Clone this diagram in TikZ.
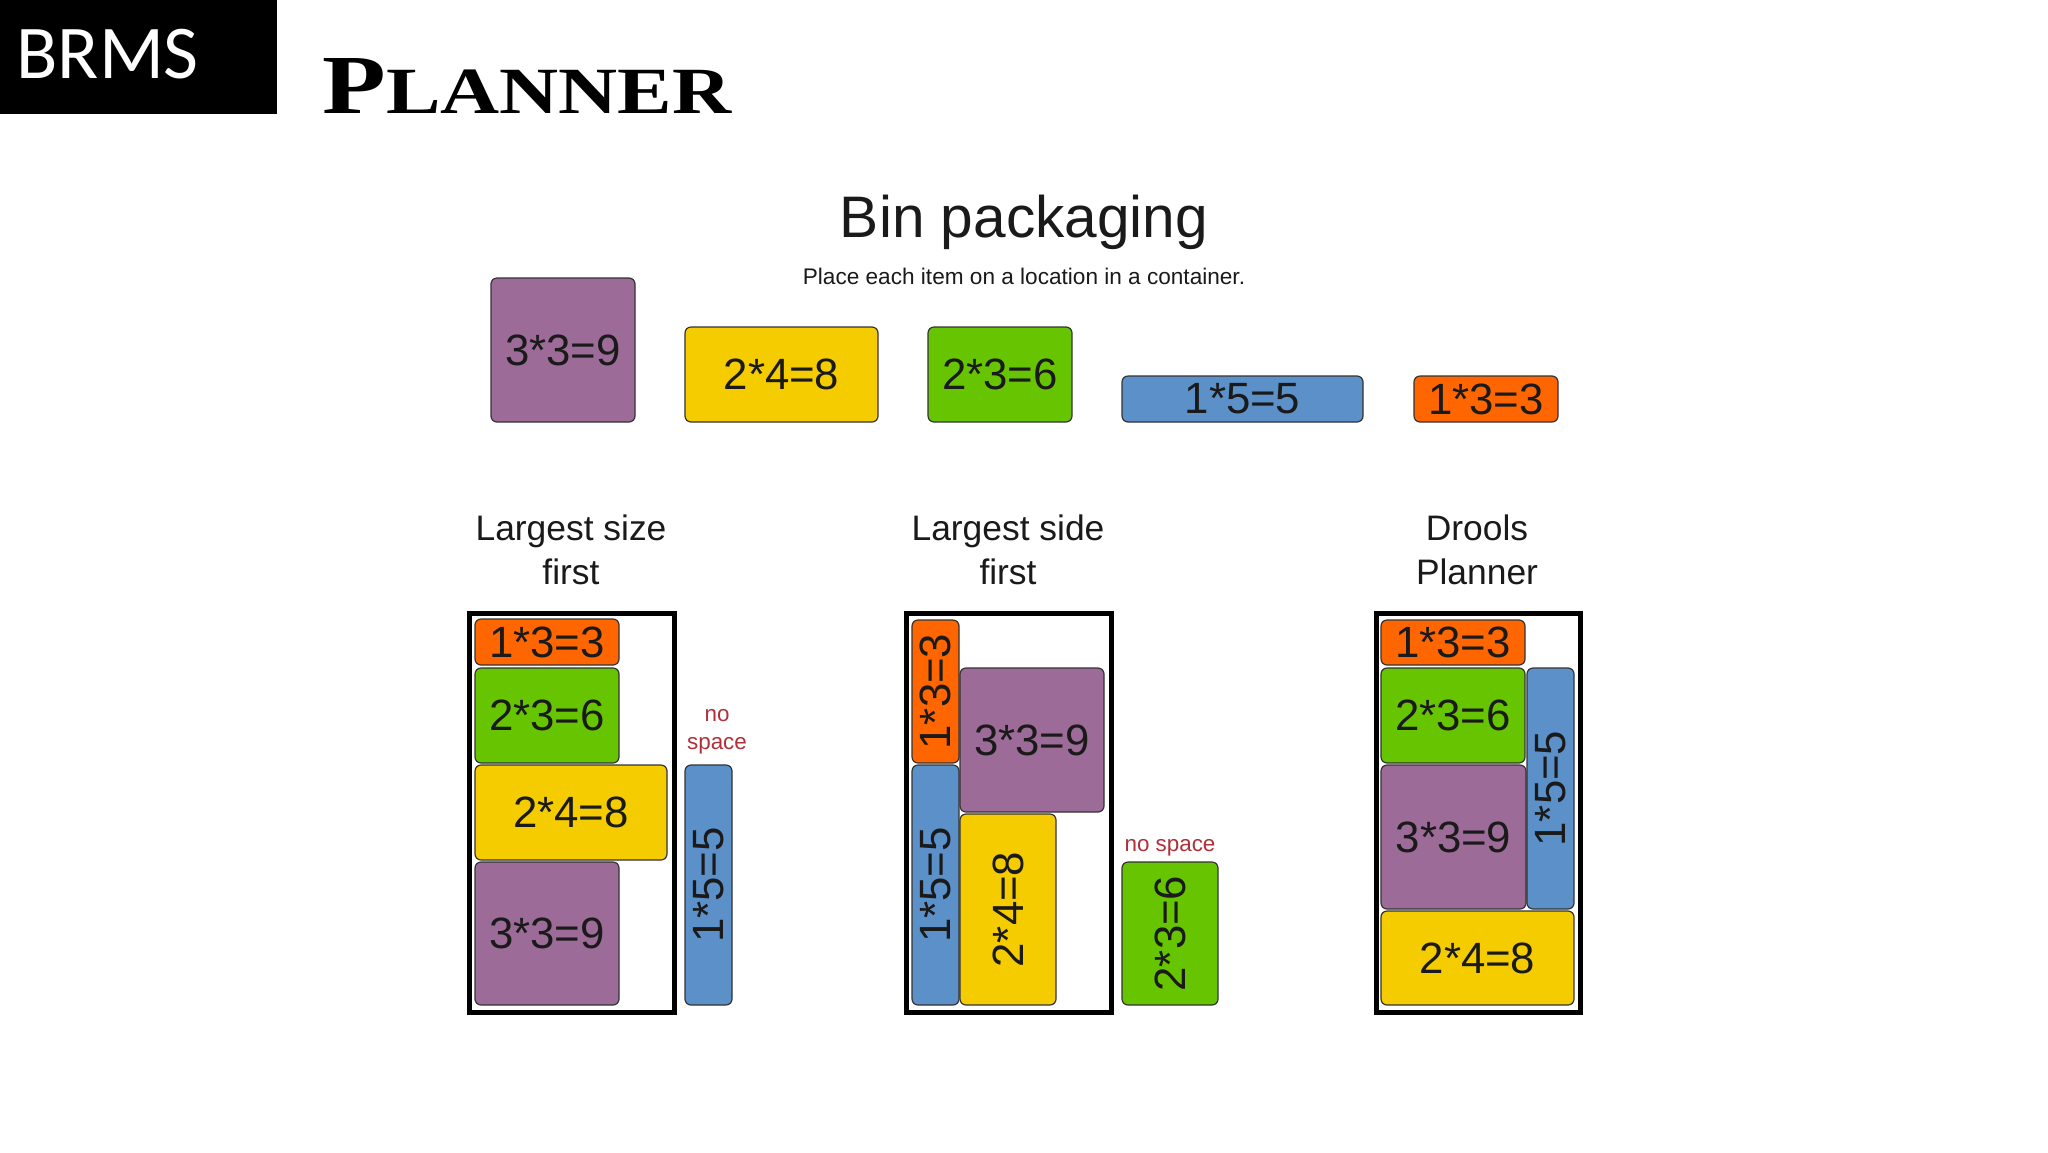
\documentclass[tikz,border=0pt]{standalone}
\usepackage{fontspec}
\setmainfont{Liberation Sans}
\newfontfamily\brmsfont{Carlito}
\newfontfamily\planfont{Liberation Serif}[Ligatures=TeX]
\definecolor{cpurple}{HTML}{9C6B98}
\definecolor{cyellow}{HTML}{F4CC00}
\definecolor{cgreen}{HTML}{66C500}
\definecolor{cblue}{HTML}{5B90C8}
\definecolor{corange}{HTML}{FF6600}
\definecolor{cred}{HTML}{B0303A}
\definecolor{cink}{HTML}{1A1A1A}
\definecolor{cedge}{HTML}{333333}
\tikzset{
  item/.style={draw=cedge,line width=0.6pt,rounded corners=3pt,inner sep=0pt,outer sep=0pt,text=cink,font=\fontsize{21.9}{24}\selectfont},
  binbox/.style={draw=black,line width=2.5pt,fill=white,inner sep=0pt,outer sep=0pt},
  heading/.style={align=center,text=cink,inner sep=0pt,font=\fontsize{17.7}{22.2}\selectfont},
  nospace/.style={align=center,text=cred,inner sep=0pt,font=\fontsize{11.2}{14}\selectfont}
}
\newcommand{\placebox}[7]{% name, x0,y0,x1,y1, style, text
  \pgfmathsetmacro{\cxv}{(#2+#4)/2}
  \pgfmathsetmacro{\cyv}{(#3+#5)/2}
  \pgfmathsetmacro{\wv}{(#4-#2)*0.5}
  \pgfmathsetmacro{\hv}{(#5-#3)*0.5}
  \node[#6,minimum width=\wv pt,minimum height=\hv pt] (#1) at (\cxv,\cyv) {#7};
}
\newcommand{\up}[1]{\rotatebox{90}{#1}}
\begin{document}
\begin{tikzpicture}[x=0.5pt,y=-0.5pt]
\useasboundingbox (0,0) rectangle (2048,1152);
\fill[white] (0,0) rectangle (2048,1152);
% header
\placebox{hdr}{0}{0}{277}{113.5}{fill=black,inner sep=0pt,outer sep=0pt}{}
\node[anchor=base west,inner sep=0pt,text=white,font=\brmsfont\fontsize{38}{40}\selectfont] (brms) at (16,78) {BRMS};
\node[anchor=base west,inner sep=0pt,font=\planfont\bfseries] (plan) at (322,113) {\scalebox{1.24}[1]{\fontsize{42}{44}\selectfont P\fontsize{33}{36}\selectfont LANNER}};
% titles
\node[inner sep=0pt,text=cink,font=\fontsize{29.3}{32}\selectfont] (title) at (1024,222) {Bin packaging};
\node[inner sep=0pt,text=cink,font=\fontsize{11.3}{13}\selectfont] (sub) at (1024,276) {Place each item on a location in a container.};
% top row
\placebox{tp}{491}{278}{635}{422}{item,fill=cpurple}{3*3=9}
\placebox{ty}{685}{327}{878}{422}{item,fill=cyellow}{2*4=8}
\placebox{tg}{928}{327}{1072}{422}{item,fill=cgreen}{2*3=6}
\placebox{tb}{1122}{376}{1363}{422}{item,fill=cblue}{1*5=5}
\placebox{to}{1414}{376}{1558}{422}{item,fill=corange}{1*3=3}
% headings
\node[heading] (h1) at (571,550) {Largest size\\first};
\node[heading] (h2) at (1008,550) {Largest side\\first};
\node[heading] (h3) at (1477,550) {Drools\\Planner};
% bin 1
\placebox{b1}{469}{613}{674}{1012}{binbox}{}
\placebox{ao}{475}{619}{619}{665}{item,fill=corange}{1*3=3}
\placebox{ag}{475}{668}{619}{763}{item,fill=cgreen}{2*3=6}
\placebox{ay}{475}{765}{667}{860}{item,fill=cyellow}{2*4=8}
\placebox{ap}{475}{862}{619}{1005}{item,fill=cpurple}{3*3=9}
\placebox{ab}{685}{765}{732}{1005}{item,fill=cblue}{\up{1*5=5}}
\node[nospace] (n1) at (717,732) {no\\space};
% bin 2
\placebox{b2}{906}{613}{1111}{1012}{binbox}{}
\placebox{co}{912}{620}{959}{763}{item,fill=corange}{\up{1*3=3}}
\placebox{cb}{912}{765}{959}{1005}{item,fill=cblue}{\up{1*5=5}}
\placebox{cp}{960}{668}{1104}{812}{item,fill=cpurple}{3*3=9}
\placebox{cy}{960}{814}{1056}{1005}{item,fill=cyellow}{\up{2*4=8}}
\placebox{cg}{1122}{862}{1218}{1005}{item,fill=cgreen}{\up{2*3=6}}
\node[nospace] (n2) at (1170,848) {no space};
% bin 3
\placebox{b3}{1376}{613}{1580}{1012}{binbox}{}
\placebox{eo}{1381}{620}{1525}{665}{item,fill=corange}{1*3=3}
\placebox{eg}{1381}{668}{1525}{763}{item,fill=cgreen}{2*3=6}
\placebox{ep}{1381}{765}{1526}{909}{item,fill=cpurple}{3*3=9}
\placebox{eb}{1527}{668}{1574}{909}{item,fill=cblue}{\up{1*5=5}}
\placebox{ey}{1381}{911}{1574}{1005}{item,fill=cyellow}{2*4=8}
\end{tikzpicture}
\end{document}
